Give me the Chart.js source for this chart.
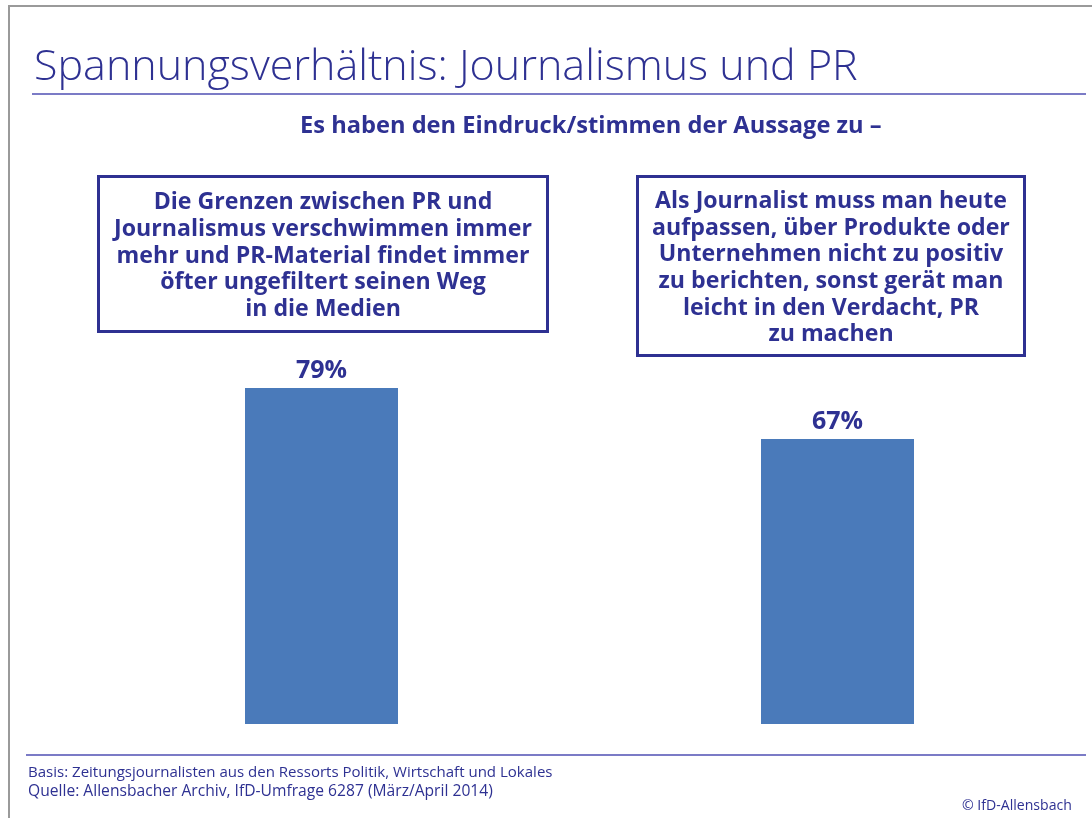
<!DOCTYPE html>
<html lang="de">
<head>
<meta charset="utf-8">
<title>Spannungsverhältnis: Journalismus und PR</title>
<script src="https://cdn.jsdelivr.net/npm/chart.js@4.4.1/dist/chart.umd.min.js"></script>
<style>
  html, body { margin: 0; padding: 0; background: #fff; }
  body { width: 1092px; height: 818px; position: relative; overflow: hidden; font-family: "Open Sans", "Liberation Sans", sans-serif; color: #2e3192; }
  .frame-left { position: absolute; left: 8px; top: 5px; width: 2px; height: 820px; background: #9a9a9a; }
  .frame-top { position: absolute; left: 8px; top: 5px; width: 1100px; height: 2px; background: #9a9a9a; }
  .rule { position: absolute; height: 2px; background: #7b7bc6; }
  .txt { position: absolute; white-space: nowrap; line-height: 1; }
  .box { position: absolute; border: 3px solid #2e3192; box-sizing: border-box; display: flex; align-items: center; justify-content: center; }
  .box div { text-align: center; font-weight: 700; line-height: 26.7px; white-space: nowrap; }
  #wrap { position: absolute; left: 0; top: 0; width: 1100px; height: 818px; }
</style>
</head>
<body>
<div class="frame-left"></div>
<div class="frame-top"></div>

<div id="wrap"><canvas id="chart-bar"></canvas></div>

<div class="txt" id="title" data-w="824" data-x="34" data-base="80" style="font-weight:300">Spannungsverhältnis: Journalismus und PR</div>
<div class="rule" style="left:32px; top:93px; width:1054px;"></div>
<div class="txt" id="subtitle" data-w="582" data-x="300" data-base="134" style="font-weight:700">Es haben den Eindruck/stimmen der Aussage zu –</div>

<div class="box" id="box1" data-w="418" style="left:97px; top:175px; width:452px; height:158px;">
  <div>Die Grenzen zwischen PR und<br>Journalismus verschwimmen immer<br>mehr und PR-Material findet immer<br>öfter ungefiltert seinen Weg<br>in die Medien</div>
</div>
<div class="box" id="box2" data-w="358" style="left:636px; top:175px; width:390px; height:182px;">
  <div>Als Journalist muss man heute<br>aufpassen, über Produkte oder<br>Unternehmen nicht zu positiv<br>zu berichten, sonst gerät man<br>leicht in den Verdacht, PR<br>zu machen</div>
</div>

<div class="rule" style="left:26px; top:754px; width:1060px;"></div>
<div class="txt" id="foot1" data-w="525" data-x="28" data-base="777">Basis: Zeitungsjournalisten aus den Ressorts Politik, Wirtschaft und Lokales</div>
<div class="txt" id="foot2" data-w="465" data-x="28" data-base="797">Quelle: Allensbacher Archiv, IfD-Umfrage 6287 (März/April 2014)</div>
<div class="txt" id="copy" data-w="110" data-x="962" data-base="811">© IfD-Allensbach</div>

<script>
const categories = ['Grenzen verschwimmen', 'Verdacht, PR zu machen'];
const shares = [79, 67];
const valueLabels = ['79%', '67%'];

const navy = '#2e3192';
const barBlue = '#4a7aba';

// size a text line so it fills the measured width of the reference
const measure = document.createElement('canvas').getContext('2d');
const fitSize = (text, weight, target) => {
  measure.font = `${weight} 100px "Open Sans", "Liberation Sans", sans-serif`;
  return 100 * target / measure.measureText(text).width;
};

document.querySelectorAll('.txt').forEach((el) => {
  const weight = getComputedStyle(el).fontWeight;
  const size = fitSize(el.textContent, weight, Number(el.dataset.w));
  el.style.fontSize = `${size}px`;
  el.style.left = `${el.dataset.x}px`;
  // with line-height 1 the Open Sans baseline sits about 0.89em below the top
  el.style.top = `${Number(el.dataset.base) - size * 0.89}px`;
});

document.querySelectorAll('.box').forEach((box) => {
  const inner = box.querySelector('div');
  const lines = inner.innerHTML.split('<br>').map((s) => s.trim());
  const widest = lines.reduce((a, b) => {
    measure.font = '700 100px "Open Sans", "Liberation Sans", sans-serif';
    return measure.measureText(a).width >= measure.measureText(b).width ? a : b;
  });
  inner.style.fontSize = `${fitSize(widest, 700, Number(box.dataset.w))}px`;
});

const valueLabelPlugin = {
  id: 'valueLabels',
  afterDatasetsDraw(chart) {
    const { ctx } = chart;
    const meta = chart.getDatasetMeta(0);
    ctx.save();
    ctx.fillStyle = navy;
    ctx.font = '700 25px "Open Sans", "Liberation Sans", sans-serif';
    ctx.textAlign = 'center';
    ctx.textBaseline = 'alphabetic';
    meta.data.forEach((bar, i) => {
      ctx.fillText(valueLabels[i], bar.x, bar.y - 10);
    });
    ctx.restore();
  },
};

const ctx = document.getElementById('chart-bar').getContext('2d');
new Chart(ctx, {
  type: 'bar',
  data: {
    labels: categories,
    datasets: [
      {
        label: 'Zustimmung (%)',
        data: shares,
        backgroundColor: barBlue,
        borderWidth: 0,
        categoryPercentage: 1,
        barPercentage: 0.2965,
      },
    ],
  },
  options: {
    responsive: true,
    maintainAspectRatio: false,
    animation: false,
    layout: { padding: { left: 63.5, right: 4.5, top: 298.7, bottom: 94 } },
    plugins: {
      legend: { display: false },
      tooltip: { enabled: false },
    },
    scales: {
      x: { display: false },
      y: { display: false, min: 0, max: 100 },
    },
  },
  plugins: [valueLabelPlugin],
});
</script>
</body>
</html>
